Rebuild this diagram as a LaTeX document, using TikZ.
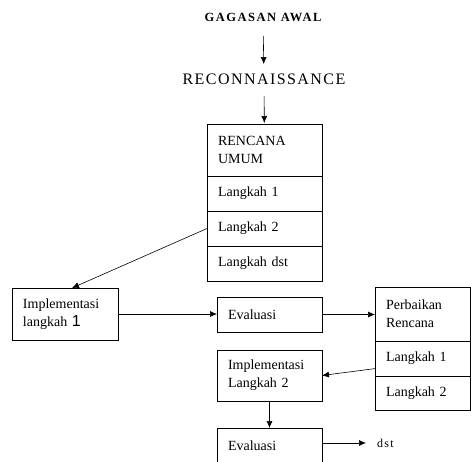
\documentclass[tikz,border=0pt]{standalone}
\usepackage{fontspec}
\setmainfont{Liberation Serif}
\newfontfamily\titlefont[LetterSpace=12]{Liberation Serif}
\newfontfamily\widefont[LetterSpace=9]{Liberation Serif}
\newfontfamily\dstfont[LetterSpace=10]{Liberation Serif}
\newfontfamily\digitfont{Liberation Sans}
\usetikzlibrary{arrows.meta,positioning}

\begin{document}
\begin{tikzpicture}[x=1pt,y=-1pt,
  box/.style={draw,rectangle,line width=0.8pt,inner xsep=11pt,inner ysep=0pt,outer sep=0pt,
    align=left,font=\fontsize{14}{18}\selectfont},
  flow/.style={-{Latex[length=7pt,width=6pt]},line width=0.6pt}]
\clip (0,0) rectangle (471,461);

% judul
\node[font=\titlefont\bfseries\fontsize{12.5}{14}\selectfont] (gagasan) at (263,17) {GAGASAN AWAL};
\node[font=\widefont\fontsize{16}{18}\selectfont] (recon) at (264,79) {RECONNAISSANCE};

% rencana umum
\node[box,text width=93pt,minimum height=52pt] (rencana) at (264.5,150) {RENCANA\\UMUM};
\node[box,text width=93pt,minimum height=35pt,below=0pt of rencana] (rlangkaha) {Langkah 1};
\node[box,text width=93pt,minimum height=35pt,below=0pt of rlangkaha] (rlangkahb) {Langkah 2};
\node[box,text width=93pt,minimum height=35pt,below=0pt of rlangkahb] (rlangkahc) {Langkah dst};

% siklus 1
\node[box,text width=84pt,minimum height=52pt] (implsatu) at (65,314) {Implementasi\\langkah {\digitfont\fontsize{16}{18}\selectfont 1}};
\node[box,text width=83pt,minimum height=35pt] (evalsatu) at (269.5,314.5) {Evaluasi};

% perbaikan rencana
\node[box,text width=73pt,minimum height=54pt] (perbaikan) at (422.5,314) {Perbaikan\\Rencana};
\node[box,text width=73pt,minimum height=35pt,below=0pt of perbaikan] (plangkaha) {Langkah 1};
\node[box,text width=73pt,minimum height=34pt,below=0pt of plangkaha] (plangkahb) {Langkah 2};

% siklus 2
\node[box,text width=83pt,minimum height=51pt] (impldua) at (269.5,375.5) {Implementasi\\Langkah 2};
\node[box,text width=83pt,minimum height=35pt] (evaldua) at (269.5,445.5) {Evaluasi};
\node[anchor=west,inner sep=0pt,font=\dstfont\fontsize{12}{14}\selectfont] (dst) at (377,443) {dst};

\draw[flow,shorten <=11pt,shorten >=6pt] (gagasan) -- (recon);
\draw[flow,shorten <=8pt,shorten >=1pt] (recon) -- (rencana);
\draw[flow] (rlangkahb.west) -- (implsatu.75);
\draw[flow] (implsatu.east) -- (implsatu.east -| evalsatu.west);
\draw[flow] (evalsatu.east) -- (evalsatu.east -| perbaikan.west);
\draw[flow] (plangkaha.192) -- (impldua.east);
\draw[flow] (impldua) -- (evaldua);
\draw[flow,shorten >=11pt] (evaldua.east |- dst.west) -- (dst.west);
\end{tikzpicture}
\end{document}
